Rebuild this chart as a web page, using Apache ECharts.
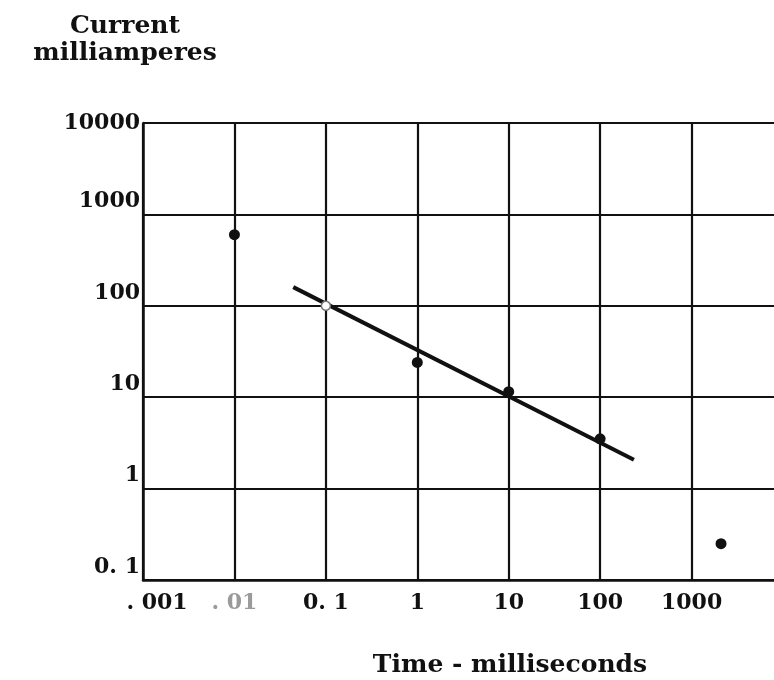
<!DOCTYPE html>
<html>
<head>
<meta charset="utf-8">
<title>Current vs time</title>
<script src="https://cdn.jsdelivr.net/npm/echarts@6/dist/echarts.min.js"></script>
<style>
  html, body { margin: 0; padding: 0; background: #fff; }
  #chart { width: 774px; height: 680px; }
</style>
</head>
<body>
<div id="chart"></div>
<script>
// tick labels, one per decade (index = decade above the axis minimum)
const xTickLabels = ['. 001', '. 01', '0. 1', '1', '10', '100', '1000', ''];
const yTickLabels = ['0. 1', '1', '10', '100', '1000', '10000'];

// measured points (time ms, current mA)
const pointTimes = [0.01, 1, 10, 100, 2100];
const pointCurrents = [600, 24, 11.5, 3.5, 0.25];

// open point sitting on the fitted line
const openTimes = [0.1];
const openCurrents = [100];

// fitted line ends
const lineTimes = [0.044, 234];
const lineCurrents = [160, 2.07];

const pairs = (xs, ys) => xs.map((x, i) => [x, ys[i]]);
const fontFam = '"DejaVu Serif", "Liberation Serif", serif';

let myChart = echarts.init(document.getElementById('chart'));
let option = {
    backgroundColor: '#fff',
    animation: false,
    title: [
        {
            text: 'Current\nmilliamperes',
            left: 120,
            top: 8,
            textAlign: 'center',
            textStyle: {
                fontFamily: fontFam, fontWeight: 'bold', fontSize: 25,
                lineHeight: 27, color: '#111'
            }
        },
        {
            text: 'Time - milliseconds',
            left: 505,
            top: 646,
            textAlign: 'center',
            textStyle: {
                fontFamily: fontFam, fontWeight: 'bold', fontSize: 25,
                lineHeight: 28, color: '#111'
            }
        }
    ],
    grid: {
        left: 143,
        top: 123,
        right: -9,
        bottom: 100,
        containLabel: false,
        outerBoundsMode: 'none'
    },
    xAxis: {
        type: 'log',
        logBase: 10,
        min: 0.001,
        max: 10000,
        axisLine: { show: true, lineStyle: { color: '#111', width: 2.5 } },
        axisTick: { show: false },
        splitLine: { show: true, lineStyle: { color: '#111', width: 2.2 } },
        axisLabel: {
            margin: 12,
            showMaxLabel: false,
            fontFamily: fontFam,
            fontWeight: 'bold',
            fontSize: 22,
            color: '#111',
            formatter: function (v) {
                let i = Math.round(Math.log10(v)) + 3;
                let t = xTickLabels[i] || '';
                if (i === 0) return '{f|' + t + '}';
                if (i === 1) return '{g|' + t + '}';
                return t;
            },
            rich: {
                f: { fontFamily: fontFam, fontWeight: 'bold', fontSize: 22, color: '#111', padding: [0, 0, 0, 28] },
                g: { fontFamily: fontFam, fontWeight: 'bold', fontSize: 22, color: '#9a9a9a' }
            }
        }
    },
    yAxis: {
        type: 'log',
        logBase: 10,
        min: 0.1,
        max: 10000,
        axisLine: { show: true, lineStyle: { color: '#111', width: 2.5 } },
        axisTick: { show: false },
        splitLine: { show: true, lineStyle: { color: '#111', width: 2.2 } },
        axisLabel: {
            margin: 3,
            fontFamily: fontFam,
            fontWeight: 'bold',
            fontSize: 22,
            color: '#111',
            formatter: function (v) {
                let i = Math.round(Math.log10(v)) + 1;
                let t = yTickLabels[i] || '';
                return i === 5 ? '{t|' + t + '}' : '{a|' + t + '}';
            },
            rich: {
                t: { fontFamily: fontFam, fontWeight: 'bold', fontSize: 22, color: '#111' },
                a: { fontFamily: fontFam, fontWeight: 'bold', fontSize: 22, color: '#111', padding: [0, 0, 26, 0] }
            }
        }
    },
    series: [
        {
            type: 'line',
            data: pairs(lineTimes, lineCurrents),
            symbol: 'none',
            lineStyle: { color: '#111', width: 4 },
            z: 3
        },
        {
            type: 'scatter',
            data: pairs(pointTimes, pointCurrents),
            symbol: 'circle',
            symbolSize: 11,
            itemStyle: { color: '#111', opacity: 1 },
            z: 4
        },
        {
            type: 'scatter',
            data: pairs(openTimes, openCurrents),
            symbol: 'circle',
            symbolSize: 9,
            itemStyle: { color: '#fff', borderColor: '#777', borderWidth: 1.5, opacity: 1 },
            z: 5
        }
    ]
};
myChart.setOption(option);
</script>
</body>
</html>
